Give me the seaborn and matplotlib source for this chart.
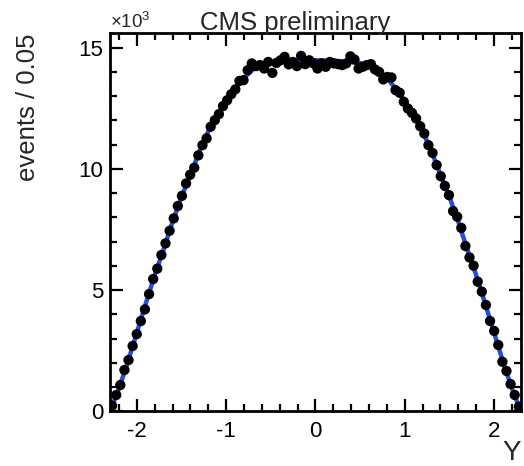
import numpy as np
import pandas as pd
import matplotlib
matplotlib.use("Agg")
import matplotlib.pyplot as plt
from matplotlib.ticker import MultipleLocator
import seaborn as sns

# measured rapidity distribution (events per bin, x10^3), 100 bins over [-2.3, 2.3]
y_lo, y_hi, n_bins = -2.3, 2.3, 100
events = [0.24, 0.68, 1.09, 1.71, 2.12, 2.70, 3.19, 3.73, 4.21, 4.84,
          5.46, 5.89, 6.45, 6.93, 7.45, 7.96, 8.47, 8.89, 9.40, 9.76,
          10.05, 10.56,
          10.98, 11.26, 11.74, 12.01, 12.26, 12.59, 12.83, 13.08, 13.28, 13.63,
          13.66, 14.07, 14.35, 14.24, 14.28, 14.14, 14.41, 13.96, 14.37, 14.48,
          14.62, 14.31, 14.41, 14.24, 14.66, 14.32, 14.48, 14.35, 14.14, 14.35,
          14.21, 14.41, 14.35, 14.32, 14.28, 14.35, 14.64, 14.51, 14.14, 14.21,
          14.28, 14.32, 14.10, 14.00, 13.69, 13.79, 13.77, 13.25, 13.14, 12.77,
          12.49, 12.31, 12.08, 11.76, 11.46, 10.98,
          10.66, 10.16, 9.70, 9.30, 8.92, 8.26, 8.03, 7.57, 6.82, 6.35,
          6.01, 5.35, 4.94, 4.39, 3.73, 3.32, 2.74, 2.05, 1.67, 1.13,
          0.68, 0.20]

# fit curve
fit_x = [-2.3, -2.2, -2.1, -2.0, -1.9, -1.8, -1.7, -1.6, -1.5, -1.4, -1.3, -1.2,
         -1.1, -1.0, -0.9, -0.8, -0.7, -0.6, -0.5, -0.4, -0.3, -0.2, -0.1, 0.0,
         0.1, 0.2, 0.3, 0.4, 0.5, 0.6, 0.7, 0.8, 0.9, 1.0, 1.1, 1.2,
         1.3, 1.4, 1.5, 1.6, 1.7, 1.8, 1.9, 2.0, 2.1, 2.2, 2.3]
fit_y = [0.0, 0.95, 2.05, 3.25, 4.45, 5.62, 6.68, 7.82, 8.85, 9.75, 10.72, 11.55,
         12.2, 12.8, 13.3, 13.75, 14.1, 14.28, 14.36, 14.41, 14.44, 14.46, 14.47, 14.48,
         14.47, 14.46, 14.44, 14.41, 14.36, 14.28, 14.1, 13.75, 13.3, 12.8, 12.2, 11.55,
         10.72, 9.75, 8.85, 7.82, 6.68, 5.62, 4.45, 3.25, 2.05, 0.95, 0.0]

width = (y_hi - y_lo) / n_bins
centers = [y_lo + width * (i + 0.5) for i in range(n_bins)]
data = pd.DataFrame({'Y': centers, 'events': events})
fit = pd.DataFrame({'Y': fit_x, 'events': fit_y})

sns.set_style("ticks")
plt.rcParams['font.family'] = ['Liberation Sans', 'DejaVu Sans']
plt.rcParams['mathtext.fontset'] = 'custom'
plt.rcParams['mathtext.rm'] = 'Liberation Sans'
plt.rcParams['axes.unicode_minus'] = False

fig = plt.figure(figsize=(5.24, 4.66), dpi=100)
ax = fig.add_axes([0.21, 0.117, 0.784, 0.812])

sns.lineplot(data=fit, x='Y', y='events', color='#1d4cf5', lw=3.2, ax=ax)
sns.scatterplot(data=data, x='Y', y='events', color='black', s=55,
                edgecolor='none', ax=ax, zorder=3)

ax.set_xlim(y_lo, y_hi)
ax.set_ylim(0, 15.6)
ax.xaxis.set_major_locator(MultipleLocator(1))
ax.xaxis.set_minor_locator(MultipleLocator(0.2))
ax.yaxis.set_major_locator(MultipleLocator(5))
ax.yaxis.set_minor_locator(MultipleLocator(1))
ax.tick_params(which='both', direction='in', top=True, right=True,
               width=1.6, labelsize=16, colors='black')
ax.tick_params(which='major', length=9)
ax.tick_params(which='minor', length=5)
ax.tick_params(axis='x', which='major', pad=7)
ax.tick_params(axis='y', which='major', pad=5)
for s in ax.spines.values():
    s.set_linewidth(2)
    s.set_color('black')

ax.set_xlabel('Y', fontsize=20, loc='right')
ax.xaxis.set_label_coords(1.0, -0.075)
ax.set_ylabel('events / 0.05', fontsize=18.5, loc='top')
ax.yaxis.set_label_coords(-0.17, 1.0)
fig.text(0.563, 0.936, 'CMS preliminary', fontsize=18.5,
         ha='center', va='baseline')
ax.text(0.0, 1.003, r'$\times$10$^{3}$', transform=ax.transAxes,
        fontsize=13.5, ha='left', va='bottom')

fig.savefig('out.png', dpi=100)
